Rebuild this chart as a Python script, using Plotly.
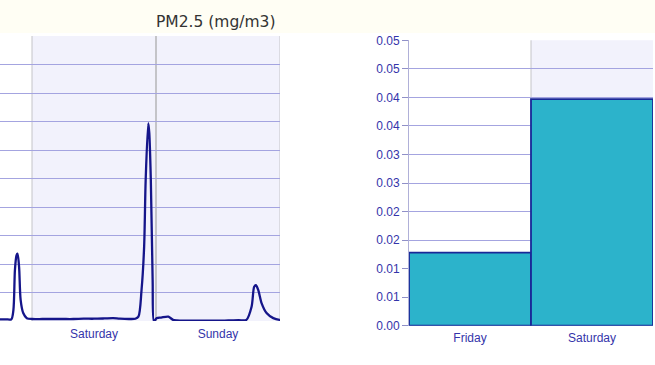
import plotly.graph_objects as go

# ---- Data: PM2.5 time series (hours from Friday 00:00) ----
hours = [17, 18, 19, 20, 20.4, 20.7, 21.0, 21.2, 21.5, 21.8, 22.3, 23, 24, 26, 28, 30,
         32, 34, 36, 38, 39.7, 41, 43, 44, 44.6, 45.2, 45.7, 46.0, 46.5, 46.7, 47.0,
         47.35, 47.6, 48.1, 49, 50.4, 51.3, 52, 54, 56, 58, 60, 62, 64, 65.5, 66.5,
         67.0, 67.35, 67.8, 68.45, 69.4, 70.7, 71.9, 72]
pm25 = [0.3, 0.3, 0.3, 0.3, 1.9, 9.0, 11.5, 11.8, 9.5, 3.7, 1.4, 0.5, 0.35, 0.35, 0.35, 0.35,
        0.35, 0.4, 0.4, 0.45, 0.5, 0.4, 0.35, 0.4, 0.75, 5.4, 13.0, 24.7, 34.7, 33.0, 24.7,
        7.2, -0.1, 0.5, 0.6, 0.75, 0.2, 0.1, 0.05, 0.05, 0.05, 0.05, 0.1, 0.15, 0.2, 2.5,
        6.0, 6.3, 5.4, 3.1, 1.4, 0.5, 0.2, 0.2]

day_names = ["Saturday", "Sunday"]
day_centers = [36, 60]
day_bounds = [24, 48, 72]
line_y_ticks = [0, 5, 10, 15, 20, 25, 30, 35, 40, 45, 50]

# ---- Data: daily averages ----
bar_days = ["Friday", "Saturday"]
bar_values = [0.0128, 0.0397]
bar_tickvals = [0, 0.005, 0.01, 0.015, 0.02, 0.025, 0.03, 0.035, 0.04, 0.045, 0.05]
bar_ticktext = ["0.00", "0.01", "0.01", "0.02", "0.02", "0.03", "0.03", "0.04", "0.04", "0.05", "0.05"]

LAV = "#f2f2fc"
GRID = "#a4a4e0"
TICKC = "#3434aa"
VGRID = "#c4c4c8"

W, H = 655, 365

fig = go.Figure()

fig.add_trace(go.Scatter(
    x=hours, y=pm25, mode="lines", xaxis="x", yaxis="y",
    line=dict(color="#15158a", width=2.3, shape="spline", smoothing=0.8),
    showlegend=False, hoverinfo="skip"))

fig.add_trace(go.Bar(
    x=bar_days, y=bar_values, xaxis="x2", yaxis="y2", width=1.0,
    marker=dict(color="#2cb3cb", line=dict(color="#1a2898", width=1.8)),
    showlegend=False))

shapes = []
# cream top band
shapes.append(dict(type="rect", xref="paper", yref="paper", x0=0, x1=1,
                   y0=1 - 33 / H, y1=1, fillcolor="#fffef4", line_width=0, layer="below"))
# weekend bands on line chart
shapes.append(dict(type="rect", xref="x", yref="y domain", x0=day_bounds[0], x1=day_bounds[-1],
                   y0=0, y1=1, fillcolor=LAV, line_width=0, layer="below"))
for i, b in enumerate(day_bounds):
    shapes.append(dict(type="line", xref="x", yref="y domain", x0=b, x1=b, y0=0, y1=1,
                       line=dict(color=VGRID, width=2 if i == 1 else 1), layer="below"))
# Saturday band on bar chart
shapes.append(dict(type="rect", xref="x2", yref="y2 domain", x0=0.5, x1=1.5,
                   y0=0, y1=1, fillcolor=LAV, line_width=0, layer="below"))
shapes.append(dict(type="line", xref="x2", yref="y2 domain", x0=0.5, x1=0.5, y0=0, y1=1,
                   line=dict(color=VGRID, width=1), layer="below"))

tickfont = dict(family="Liberation Sans, Arial, sans-serif", size=12, color=TICKC)

fig.update_layout(
    width=W, height=H, margin=dict(l=0, r=0, t=0, b=0, pad=0, autoexpand=False),
    paper_bgcolor="white", plot_bgcolor="white",
    shapes=shapes,
    xaxis=dict(domain=[0, 280 / W], range=[24 - 32 / 5.1667, 72],
               tickvals=day_centers, ticktext=day_names, showgrid=False,
               zeroline=False, showline=False, ticks="outside", ticklen=2,
               tickcolor="rgba(0,0,0,0)", tickfont=tickfont),
    yaxis=dict(domain=[1 - 321 / H, 1 - 36 / H], range=[0, 50],
               tickvals=line_y_ticks, showticklabels=False, gridcolor=GRID,
               gridwidth=1, zeroline=False, showline=False, ticks=""),
    xaxis2=dict(domain=[409 / W, 653 / W], range=[-0.5, 1.5], showgrid=False,
                zeroline=False, showline=False, ticks="outside", ticklen=6,
                tickcolor="rgba(0,0,0,0)", tickfont=tickfont),
    yaxis2=dict(domain=[1 - 325.7 / H, 1 - 40.3 / H], range=[0, 0.05],
                tickvals=bar_tickvals, ticktext=bar_ticktext, gridcolor=GRID,
                zeroline=False, showline=True, linecolor="#b0b0d8", linewidth=1,
                ticks="outside", ticklen=6, tickcolor="#9090c8", tickfont=tickfont,
                anchor="x2"),
    annotations=[dict(text="PM2.5 (mg/m3)", xref="paper", yref="paper",
                      x=278 / W, y=1 - 22 / H, xanchor="right", yanchor="middle",
                      showarrow=False,
                      font=dict(family="DejaVu Sans, Verdana, sans-serif", size=15.5, color="#333333"))],
)

fig.write_html("out.html")
